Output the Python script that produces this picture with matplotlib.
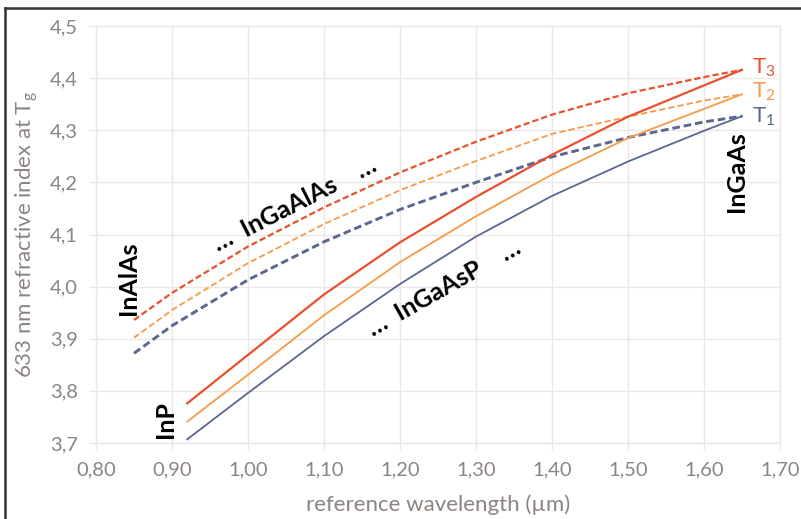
import numpy as np
import matplotlib
matplotlib.use("Agg")
import matplotlib.pyplot as plt
from matplotlib.ticker import FuncFormatter, MultipleLocator
from matplotlib.lines import Line2D

plt.rcParams["font.family"] = ["Lato", "DejaVu Sans"]
plt.rcParams["mathtext.fontset"] = "custom"
plt.rcParams["mathtext.rm"] = "Lato"
plt.rcParams["mathtext.it"] = "Lato:italic"
plt.rcParams["lines.scale_dashes"] = False

# InGaAsP (solid), InP -> InGaAs
x_solid = [0.92, 1.00, 1.10, 1.20, 1.30, 1.40, 1.50, 1.60, 1.65]
t3_solid = [3.776, 3.869, 3.985, 4.085, 4.172, 4.253, 4.326, 4.386, 4.416]
t2_solid = [3.741, 3.831, 3.945, 4.047, 4.135, 4.215, 4.285, 4.341, 4.369]
t1_solid = [3.707, 3.796, 3.905, 4.005, 4.096, 4.174, 4.240, 4.299, 4.327]

# InGaAlAs (dashed), InAlAs -> InGaAs
x_dash = [0.85, 0.90, 1.00, 1.10, 1.20, 1.30, 1.40, 1.50, 1.60, 1.65]
t3_dash = [3.936, 3.988, 4.077, 4.152, 4.219, 4.278, 4.330, 4.371, 4.402, 4.416]
t2_dash = [3.902, 3.955, 4.045, 4.120, 4.185, 4.241, 4.293, 4.326, 4.357, 4.369]
t1_dash = [3.872, 3.925, 4.013, 4.086, 4.148, 4.200, 4.249, 4.286, 4.316, 4.327]

red = "#e8502e"
orange = "#f79a48"
blue = "#5a6890"
grid_c = "#ebe7e4"
tick_c = "#8c8480"

fig = plt.figure(figsize=(8.01, 5.19), dpi=100)
ax = fig.add_axes([96 / 801, 1 - 443 / 519, 684 / 801, 417 / 519])

ax.plot(x_dash, t3_dash, color=red, lw=1.6, dashes=(4.5, 2.2))
ax.plot(x_dash, t2_dash, color=orange, lw=1.3, dashes=(4.5, 2.2))
ax.plot(x_dash, t1_dash, color=blue, lw=2.1, dashes=(5.5, 2.8))
ax.plot(x_solid, t3_solid, color=red, lw=1.6)
ax.plot(x_solid, t2_solid, color=orange, lw=1.3)
ax.plot(x_solid, t1_solid, color=blue, lw=1.3)

ax.set_xlim(0.80, 1.70)
ax.set_ylim(3.7, 4.5)
ax.xaxis.set_major_locator(MultipleLocator(0.1))
ax.yaxis.set_major_locator(MultipleLocator(0.1))
ax.xaxis.set_major_formatter(FuncFormatter(lambda v, p: f"{v:.2f}".replace(".", ",")))
ax.yaxis.set_major_formatter(FuncFormatter(lambda v, p: f"{v:.1f}".replace(".", ",")))
ax.grid(True, color=grid_c, lw=1.0)
ax.set_axisbelow(True)
for s in ax.spines.values():
    s.set_color(grid_c)
    s.set_linewidth(1.0)
ax.tick_params(colors=grid_c, labelcolor=tick_c, labelsize=14.5, length=5, width=1.0, pad=8)

ax.set_xlabel("reference wavelength (µm)", fontsize=16, color=tick_c, labelpad=12)
ax.set_ylabel(r"633 nm refractive index at T$_\mathrm{g}$", fontsize=16, color=tick_c, labelpad=7)

bold = dict(fontsize=18, fontweight="bold", color="black", ha="center", va="center")
ax.text(1.643, 4.22, "InGaAs", rotation=90, **bold)
ax.text(0.843, 4.016, "InAlAs", rotation=90, **bold)
ax.text(0.892, 3.745, "InP", rotation=90, **bold)
ax.text(1.061, 4.158, "…  InGaAlAs    …", rotation=27, **bold)
ax.text(1.258, 3.997, "…  InGaAsP    …", rotation=29.5, **bold)

ax.text(1.663, 4.408, r"T$_\mathrm{3}$", color=red, fontsize=16, va="baseline")
ax.text(1.663, 4.362, r"T$_\mathrm{2}$", color=orange, fontsize=16, va="baseline")
ax.text(1.663, 4.315, r"T$_\mathrm{1}$", color=blue, fontsize=16, va="baseline")

# frame line around the figure (left and top visible)
fig.add_artist(Line2D([5 / 801, 5 / 801], [0, 1 - 8 / 519], color="#333333", lw=1.8))
fig.add_artist(Line2D([5 / 801, 1], [1 - 8 / 519, 1 - 8 / 519], color="#333333", lw=1.8))

fig.savefig("out.png", dpi=100)
